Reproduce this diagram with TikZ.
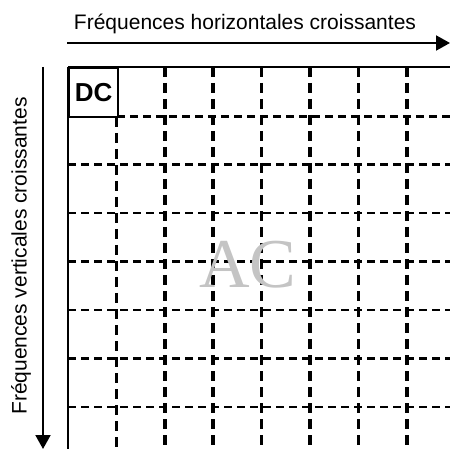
\documentclass[tikz,border=0pt]{standalone}
\usepackage{fontspec}
\setmainfont{Liberation Sans}
\newfontfamily\acfont{Liberation Serif}
\usetikzlibrary{arrows.meta}
\definecolor{acgray}{HTML}{C4C4C4}
\tikzset{
  solidline/.style={line width=2pt, black},
  axisarrow/.style={line width=2pt, -{Triangle[length=14pt,width=15pt]}},
  hdash/.style={line width=2.6pt, dash pattern=on 8pt off 5pt},
  vdash/.style={line width=3.6pt, dash pattern=on 10pt off 6pt},
  dcbox/.style={draw, line width=2.2pt, minimum size=49pt, inner sep=0pt, font=\bfseries\fontsize{26}{26}\selectfont},
  lbl/.style={font=\fontsize{21}{21}\selectfont, inner sep=0pt},
}
\begin{document}
\begin{tikzpicture}[x=1pt,y=-1pt]
\useasboundingbox (0,0) rectangle (450,449);
% axes
\coordinate (hs) at (67,43);
\coordinate (he) at (450,43);
\coordinate (vs) at (43,67);
\coordinate (ve) at (43,449);
\draw[axisarrow] (hs) -- (he);
\draw[axisarrow] (vs) -- (ve);
\node[lbl] (htxt) at (245,24) {Fréquences horizontales croissantes};
\node[lbl, rotate=90] (vtxt) at (21,256) {Fréquences verticales croissantes};
% grid dashed lines
\foreach \i in {1,...,7} {
  \pgfmathsetmacro{\p}{68+48.4*\i}
  \draw[hdash] ({\i==1 ? 117 : 68},\p) -- (450,\p);
  \draw[vdash] (\p,{\i==1 ? 117 : 67}) -- (\p,449);
}
% solid border lines
\draw[solidline] (68,67) -- (450,67);
\draw[solidline] (68,67) -- (68,449);
% DC box
\node[dcbox, fill=white, anchor=north west] (dc) at (68,67) {DC};
% AC label
\node[text=acgray, font=\acfont\fontsize{70}{70}\selectfont, inner sep=0pt] (ac) at (248,265) {AC};
\end{tikzpicture}
\end{document}
